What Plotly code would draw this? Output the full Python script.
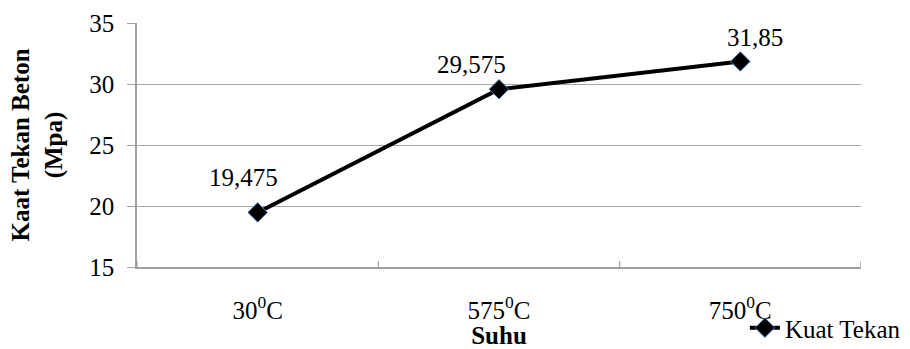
import plotly.graph_objects as go

# Compressive strength of concrete after heating
categories = ["30<sup>0</sup>C", "575<sup>0</sup>C", "750<sup>0</sup>C"]
kuat_tekan = [19.475, 29.575, 31.85]
value_labels = ["19,475", "29,575", "31,85"]
label_shift_x = [-14, -28, 15]
label_shift_y = [35, 25, 24]

FONT = "Liberation Serif"
FS = 25

fig = go.Figure()
fig.add_trace(go.Scatter(
    x=categories, y=kuat_tekan, mode="lines+markers", name="Kuat Tekan",
    line=dict(color="black", width=4),
    marker=dict(symbol="diamond", size=15, color="black",
                line=dict(color="#4a7ab5", width=1)),
))

for c, v, t, dx, dy in zip(categories, kuat_tekan, value_labels, label_shift_x, label_shift_y):
    fig.add_annotation(x=c, y=v, text=t, showarrow=False, xshift=dx, yshift=dy,
                       font=dict(family=FONT, size=FS, color="black"))

fig.update_layout(
    width=910, height=349,
    margin=dict(l=137, r=49, t=23, b=82, autoexpand=False),
    plot_bgcolor="white", paper_bgcolor="white",
    font=dict(family=FONT, size=FS, color="black"),
    showlegend=True,
    legend=dict(x=1.062, xanchor="right", y=-0.25, yanchor="middle",
                bgcolor="rgba(0,0,0,0)", font=dict(family=FONT, size=FS),
                itemwidth=30),
    xaxis=dict(
        type="category", range=[-0.5, 2.5],
        showline=True, linecolor="#a0a0a0", linewidth=1.5,
        showgrid=False, ticks="", ticklabelstandoff=20,
        tickfont=dict(family=FONT, size=FS),
        title=dict(text="<b>Suhu</b>", font=dict(family=FONT, size=FS), standoff=6),
    ),
    yaxis=dict(
        range=[15, 35], dtick=5,
        showline=True, linecolor="#a0a0a0", linewidth=1.5,
        showgrid=True, gridcolor="#a8a8a8", gridwidth=1.2,
        ticks="outside", ticklen=8, tickcolor="#a0a0a0",
        ticklabelstandoff=8,
        tickfont=dict(family=FONT, size=FS),
        zeroline=False,
        title=dict(text="<b>Kaat Tekan Beton<br>(Mpa)</b>",
                   font=dict(family=FONT, size=FS), standoff=20),
    ),
)

# Category boundary tick marks on the horizontal axis
for b in [-0.5, 0.5, 1.5, 2.5]:
    fig.add_shape(type="line", xref="x", yref="paper", x0=b, x1=b, y0=0, y1=0.025,
                  line=dict(color="#a0a0a0", width=1.2))

fig.write_html("out.html")
